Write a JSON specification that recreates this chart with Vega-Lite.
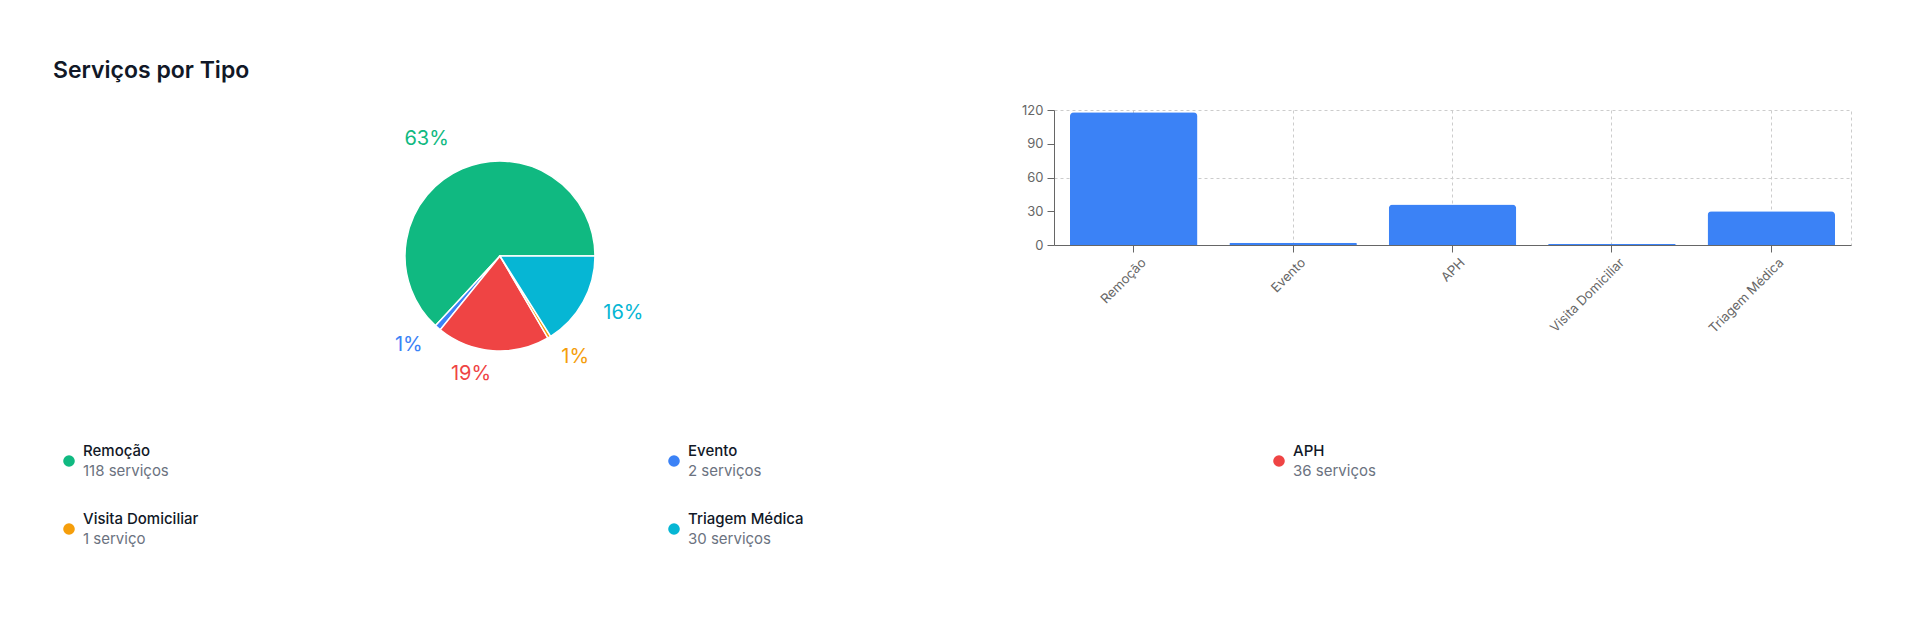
{
  "$schema": "https://vega.github.io/schema/vega-lite/v6.json",
  "background": "#ffffff",
  "padding": {"left": 53, "top": 59, "right": 20, "bottom": 20},
  "title": {
    "text": "Serviços por Tipo",
    "anchor": "start",
    "fontSize": 23,
    "fontWeight": 600,
    "color": "#111827",
    "offset": 21
  },
  "data": {
    "values": [
      {"tipo": "Remoção", "qtd": 118, "pct": "63%", "desc": "118 serviços"},
      {"tipo": "Evento", "qtd": 2, "pct": "1%", "desc": "2 serviços"},
      {"tipo": "APH", "qtd": 36, "pct": "19%", "desc": "36 serviços"},
      {"tipo": "Visita Domiciliar", "qtd": 1, "pct": "1%", "desc": "1 serviço"},
      {"tipo": "Triagem Médica", "qtd": 30, "pct": "16%", "desc": "30 serviços"}
    ]
  },
  "columns": 2,
  "bounds": "flush",
  "spacing": {"row": 28, "column": 107},
  "concat": [
    {
      "width": 894,
      "height": 292,
      "transform": [{"window": [{"op": "row_number", "as": "ordem"}]}],
      "encoding": {
        "theta": {"field": "qtd", "type": "quantitative", "stack": true, "scale": {"range": [1.5708, -4.7124]}},
        "order": {"field": "ordem", "type": "quantitative"},
        "color": {
          "field": "tipo",
          "type": "nominal",
          "scale": {
            "domain": ["Remoção", "Evento", "APH", "Visita Domiciliar", "Triagem Médica"],
            "range": ["#10b981", "#3b82f6", "#ef4444", "#f59e0b", "#06b6d4"]
          },
          "legend": null
        }
      },
      "layer": [
        {"mark": {"type": "arc", "outerRadius": 95, "stroke": "#ffffff", "strokeWidth": 1.5}},
        {
          "mark": {"type": "text", "radius": 128, "align": "right", "baseline": "middle", "fontSize": 20},
          "encoding": {"text": {"condition": {"test": "datum.tipo === 'Remoção'", "field": "pct", "type": "nominal"}, "value": ""}}
        },
        {
          "mark": {"type": "text", "radius": 118, "align": "right", "baseline": "middle", "fontSize": 20},
          "encoding": {"text": {"condition": {"test": "datum.tipo === 'Evento' || datum.tipo === 'APH'", "field": "pct", "type": "nominal"}, "value": ""}}
        },
        {
          "mark": {"type": "text", "radius": 118, "align": "left", "baseline": "middle", "fontSize": 20},
          "encoding": {"text": {"condition": {"test": "datum.tipo === 'Visita Domiciliar' || datum.tipo === 'Triagem Médica'", "field": "pct", "type": "nominal"}, "value": ""}}
        }
      ]
    },
    {
      "width": 797,
      "height": 135,
      "view": {"stroke": "#cccccc", "strokeDash": [3, 3]},
      "mark": {"type": "bar", "color": "#3b82f6", "cornerRadiusTopLeft": 4, "cornerRadiusTopRight": 4},
      "encoding": {
        "x": {
          "field": "tipo",
          "type": "nominal",
          "sort": null,
          "scale": {"paddingInner": 0.2, "paddingOuter": 0.1},
          "axis": {
            "title": null,
            "labelAngle": -45,
            "labelAlign": "right",
            "labelBaseline": "top",
            "labelOffset": 6,
            "labelPadding": 4,
            "labelFontSize": 13,
            "labelColor": "#666666",
            "tickColor": "#666666",
            "tickSize": 7,
            "domainColor": "#666666",
            "grid": true,
            "gridColor": "#cccccc",
            "gridDash": [3, 3],
            "bandPosition": 0.5
          }
        },
        "y": {
          "field": "qtd",
          "type": "quantitative",
          "scale": {"domain": [0, 120]},
          "axis": {
            "title": null,
            "values": [0, 30, 60, 90, 120],
            "labelFontSize": 13,
            "labelColor": "#666666",
            "labelPadding": 4,
            "tickColor": "#666666",
            "tickSize": 7,
            "domainColor": "#666666",
            "grid": true,
            "gridColor": "#cccccc",
            "gridDash": [3, 3],
            "gridOpacity": {"condition": {"test": "datum.value === 60", "value": 1}, "value": 0}
          }
        }
      }
    },
    {
      "width": 894,
      "height": 62,
      "transform": [{"filter": {"field": "tipo", "oneOf": ["Remoção", "Evento", "APH"]}}],
      "encoding": {
        "x": {
          "field": "tipo",
          "type": "nominal",
          "sort": null,
          "scale": {"type": "point", "domain": ["Remoção", "Evento", "APH"], "range": [16, 1226], "padding": 0},
          "axis": null
        }
      },
      "layer": [
        {
          "mark": {"type": "point", "filled": true, "size": 135, "opacity": 1},
          "encoding": {
            "color": {
              "field": "tipo",
              "type": "nominal",
              "scale": {
                "domain": ["Remoção", "Evento", "APH", "Visita Domiciliar", "Triagem Médica"],
                "range": ["#10b981", "#3b82f6", "#ef4444", "#f59e0b", "#06b6d4"]
              },
              "legend": null
            }
          }
        },
        {
          "mark": {"type": "text", "align": "left", "baseline": "alphabetic", "dx": 14, "dy": -5, "fontSize": 15, "fontWeight": 500, "color": "#111827"},
          "encoding": {"text": {"field": "tipo", "type": "nominal"}}
        },
        {
          "mark": {"type": "text", "align": "left", "baseline": "alphabetic", "dx": 14, "dy": 15, "fontSize": 15, "color": "#6b7280"},
          "encoding": {"text": {"field": "desc", "type": "nominal"}}
        }
      ]
    },
    {
      "width": 1,
      "height": 1,
      "transform": [{"filter": "false"}],
      "mark": {"type": "point", "opacity": 0}
    },
    {
      "width": 894,
      "height": 18,
      "transform": [{"filter": {"field": "tipo", "oneOf": ["Visita Domiciliar", "Triagem Médica"]}}],
      "encoding": {
        "x": {
          "field": "tipo",
          "type": "nominal",
          "sort": null,
          "scale": {"type": "point", "domain": ["Visita Domiciliar", "Triagem Médica"], "range": [16, 621], "padding": 0},
          "axis": null
        }
      },
      "layer": [
        {
          "mark": {"type": "point", "filled": true, "size": 135, "opacity": 1},
          "encoding": {
            "color": {
              "field": "tipo",
              "type": "nominal",
              "scale": {
                "domain": ["Remoção", "Evento", "APH", "Visita Domiciliar", "Triagem Médica"],
                "range": ["#10b981", "#3b82f6", "#ef4444", "#f59e0b", "#06b6d4"]
              },
              "legend": null
            }
          }
        },
        {
          "mark": {"type": "text", "align": "left", "baseline": "alphabetic", "dx": 14, "dy": -5, "fontSize": 15, "fontWeight": 500, "color": "#111827"},
          "encoding": {"text": {"field": "tipo", "type": "nominal"}}
        },
        {
          "mark": {"type": "text", "align": "left", "baseline": "alphabetic", "dx": 14, "dy": 15, "fontSize": 15, "color": "#6b7280"},
          "encoding": {"text": {"field": "desc", "type": "nominal"}}
        }
      ]
    }
  ],
  "resolve": {"scale": {"x": "independent"}},
  "config": {
    "font": "Inter",
    "view": {"stroke": null}
  }
}
